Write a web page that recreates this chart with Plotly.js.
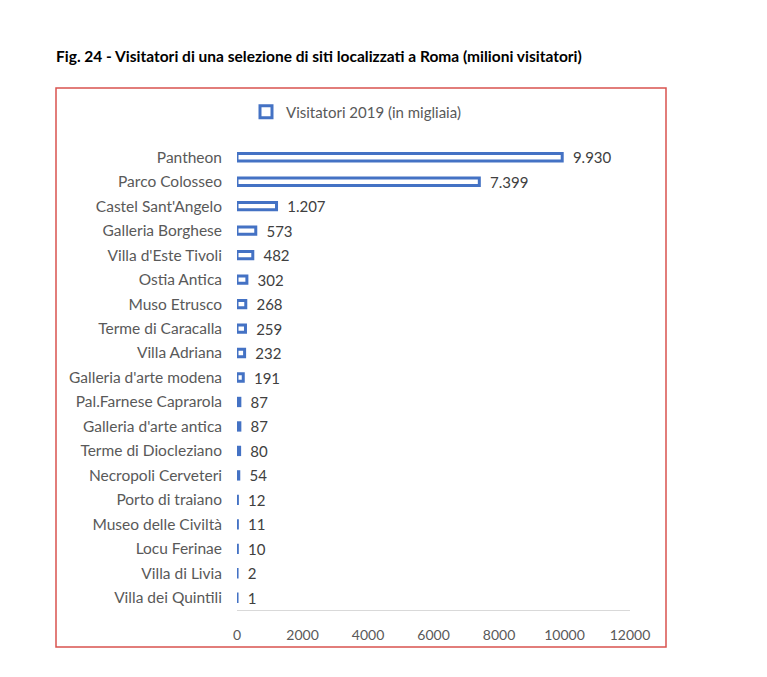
<!DOCTYPE html>
<html>
<head>
<meta charset="utf-8">
<script src="https://cdn.plot.ly/plotly-3.0.1.min.js"></script>
<style>
html,body{margin:0;padding:0;background:#fff;}
#chart{width:767px;height:677px;}
</style>
</head>
<body>
<div id="chart"></div>
<script>
const sites = ["Pantheon","Parco Colosseo","Castel Sant'Angelo","Galleria Borghese","Villa d'Este Tivoli","Ostia Antica","Muso Etrusco","Terme di Caracalla","Villa Adriana","Galleria d'arte modena","Pal.Farnese Caprarola","Galleria d'arte antica","Terme di Diocleziano","Necropoli Cerveteri","Porto di traiano","Museo delle Civiltà","Locu Ferinae","Villa di Livia","Villa dei Quintili"];
const visitors = [9930,7399,1207,573,482,302,268,259,232,191,87,87,80,54,12,11,10,2,1];
const valueLabels = ["9.930","7.399","1.207","573","482","302","268","259","232","191","87","87","80","54","12","11","10","2","1"];
const xTicks = [0,2000,4000,6000,8000,10000,12000];

const trace = {
  type: 'bar',
  orientation: 'h',
  y: sites,
  x: visitors,
  name: 'Visitatori 2019 (in migliaia)',
  width: 0.3,
  marker: {color: '#ffffff', line: {color: '#4472C4', width: 3}},
  text: valueLabels.map(s => '\u00a0\u00a0' + s),
  textposition: 'outside',
  constraintext: 'none',
  textfont: {family: 'Lato, sans-serif', size: 15, color: '#404040'},
  outsidetextfont: {family: 'Lato, sans-serif', size: 15, color: '#404040'},
  cliponaxis: false,
  hoverinfo: 'none'
};

const L = 237, R = 630, T = 145, B = 610;
const W = R - L, H = B - T;
function px(x){return (x - L)/W;}
function py(y){return (B - y)/H;}

const layout = {
  width: 767, height: 677,
  margin: {l: L, r: 767 - R, t: T, b: 677 - B, pad: 0},
  paper_bgcolor: '#ffffff', plot_bgcolor: '#ffffff',
  showlegend: true,
  legend: {orientation: 'h', x: px(356), xanchor: 'center', y: py(112), yanchor: 'middle',
           font: {family: 'Lato, sans-serif', size: 15, color: '#595959'}, itemwidth: 30},
  title: {text: '<b>Fig. 24 - Visitatori di una selezione di siti localizzati a Roma (milioni visitatori)</b>',
          font: {family: 'Lato, sans-serif', size: 15.5, color: '#000000'},
          x: 56/767, xanchor: 'left', xref: 'container', y: 1 - 57/677, yanchor: 'middle', yref: 'container'},
  xaxis: {range: [0, 12000], tickvals: xTicks, ticktext: xTicks.map(String),
          showgrid: false, zeroline: false, showline: true, linecolor: '#d9d9d9', linewidth: 1,
          ticks: '', ticklabelstandoff: 12,
          tickfont: {family: 'Lato, sans-serif', size: 14, color: '#595959'}, fixedrange: true},
  yaxis: {autorange: 'reversed', type: 'category', showgrid: false, zeroline: false, showline: false,
          ticks: '', ticklabelstandoff: 14,
          tickfont: {family: 'Lato, sans-serif', size: 15.5, color: '#595959'}, fixedrange: true},
  shapes: [{type: 'rect', xref: 'paper', yref: 'paper',
            x0: px(56), x1: px(666), y0: py(647), y1: py(88),
            line: {color: '#d9534f', width: 1.5}, fillcolor: 'rgba(0,0,0,0)', layer: 'below'}],
  font: {family: 'Lato, sans-serif'}
};

Plotly.newPlot('chart', [trace], layout, {displayModeBar: false, staticPlot: true});
</script>
</body>
</html>
